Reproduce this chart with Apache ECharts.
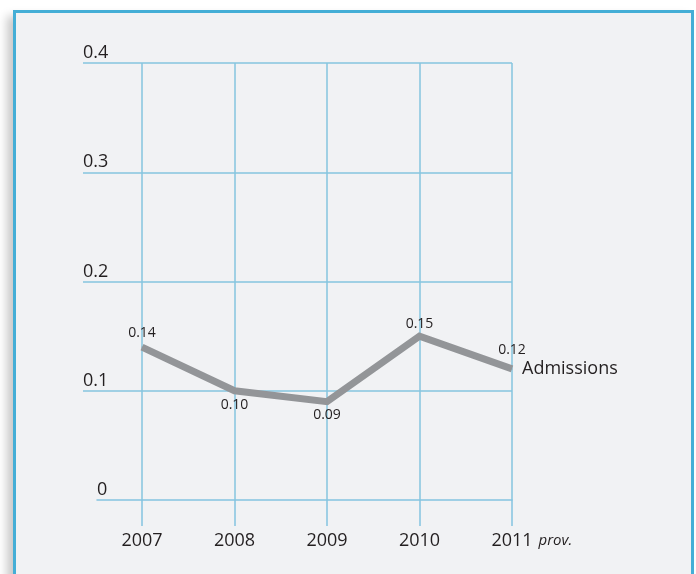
<!DOCTYPE html>
<html>
<head>
<meta charset="utf-8">
<script src="https://cdn.jsdelivr.net/npm/echarts@6/dist/echarts.min.js"></script>
<style>
  html, body { margin: 0; padding: 0; background: #ffffff; overflow: hidden; }
  #frame {
    position: absolute; left: 13px; top: 10px; width: 675px; height: 620px;
    border: 3px solid #44aed6; background: #f1f2f4;
    box-shadow: -6px 6px 9px rgba(0,0,0,0.22);
  }
  #chart { position: absolute; left: 0; top: 0; width: 696px; height: 574px; }
</style>
</head>
<body>
<div id="frame"></div>
<div id="chart"></div>
<script>
const years = ['2007', '2008', '2009', '2010', '2011'];
const admissions = [0.14, 0.10, 0.09, 0.15, 0.12];
const yTicks = [0, 0.1, 0.2, 0.3, 0.4];
const seriesName = 'Admissions';
const provisionalNote = 'prov.';

const FONT = '"Open Sans", "Liberation Sans", sans-serif';
const TXT = '#231f20';
const GRID_COLOR = '#84c4df';
const labelSides = ['top', 'bottom', 'bottom', 'top', 'top'];
const labelDist = [7, 7, 6, 5, 11];

const chart = echarts.init(document.getElementById('chart'), null, { renderer: 'canvas' });

const option = {
  backgroundColor: 'transparent',
  animation: false,
  grid: [
    { left: 83, right: 184, top: 63, bottom: 74 },
    { left: 142, right: 184, top: 63, bottom: 74 },
    { left: 97, right: 184, top: 63, bottom: 74 }
  ],
  xAxis: [
    { gridIndex: 0, type: 'value', show: false },
    {
      gridIndex: 1, type: 'category', data: years, boundaryGap: false,
      axisLine: { show: false },
      axisTick: { show: true, length: 26, lineStyle: { color: GRID_COLOR, width: 1.5 } },
      splitLine: { show: true, lineStyle: { color: GRID_COLOR, width: 1.5 } },
      axisLabel: { margin: 32, fontSize: 18, color: TXT, fontFamily: FONT },
      name: provisionalNote, nameLocation: 'end', nameGap: 25,
      nameTextStyle: {
        fontStyle: 'italic', fontSize: 15, color: TXT, fontFamily: FONT,
        verticalAlign: 'top', align: 'left', padding: [33, 0, 0, 0]
      }
    },
    {
      gridIndex: 2, type: 'value', min: 0, max: 1,
      axisLine: { show: true, lineStyle: { color: GRID_COLOR, width: 1.5 } },
      axisTick: { show: false }, axisLabel: { show: false }, splitLine: { show: false }
    }
  ],
  yAxis: [
    {
      gridIndex: 0, type: 'value', min: yTicks[0], max: yTicks[yTicks.length - 1],
      interval: yTicks[1] - yTicks[0],
      axisLine: { show: false }, axisTick: { show: false },
      splitLine: { show: true, showMinLine: false, lineStyle: { color: GRID_COLOR, width: 1.5 } },
      axisLabel: {
        align: 'left', margin: 0, verticalAlign: 'bottom', lineHeight: 18,
        padding: [0, 0, 1, 0],
        fontSize: 18, color: TXT, fontFamily: FONT,
        formatter: function (v) { return v === 0 ? '{z|0}' : String(+v.toFixed(1)); },
        rich: { z: { padding: [0, 0, 0, 14], fontSize: 18, color: TXT, fontFamily: FONT, lineHeight: 18 } }
      }
    },
    { gridIndex: 1, type: 'value', min: yTicks[0], max: yTicks[yTicks.length - 1], show: false },
    { gridIndex: 2, type: 'value', min: 0, max: 1, show: false }
  ],
  series: [
    {
      name: seriesName, type: 'line', xAxisIndex: 1, yAxisIndex: 1,
      data: admissions.map(function (v, i) {
        return { value: v, label: { position: labelSides[i], distance: labelDist[i] } };
      }),
      symbol: 'circle', symbolSize: 1,
      itemStyle: { color: '#939598' },
      lineStyle: { color: '#939598', width: 7, cap: 'butt', join: 'miter' },
      label: {
        show: true, fontSize: 14, color: TXT, fontFamily: FONT,
        formatter: function (p) { return p.value.toFixed(2); }
      },
      endLabel: {
        show: true, formatter: seriesName, fontSize: 18, color: TXT, fontFamily: FONT, distance: 10
      },
      emphasis: { disabled: true },
      z: 3
    }
  ]
};
chart.setOption(option);
</script>
</body>
</html>
